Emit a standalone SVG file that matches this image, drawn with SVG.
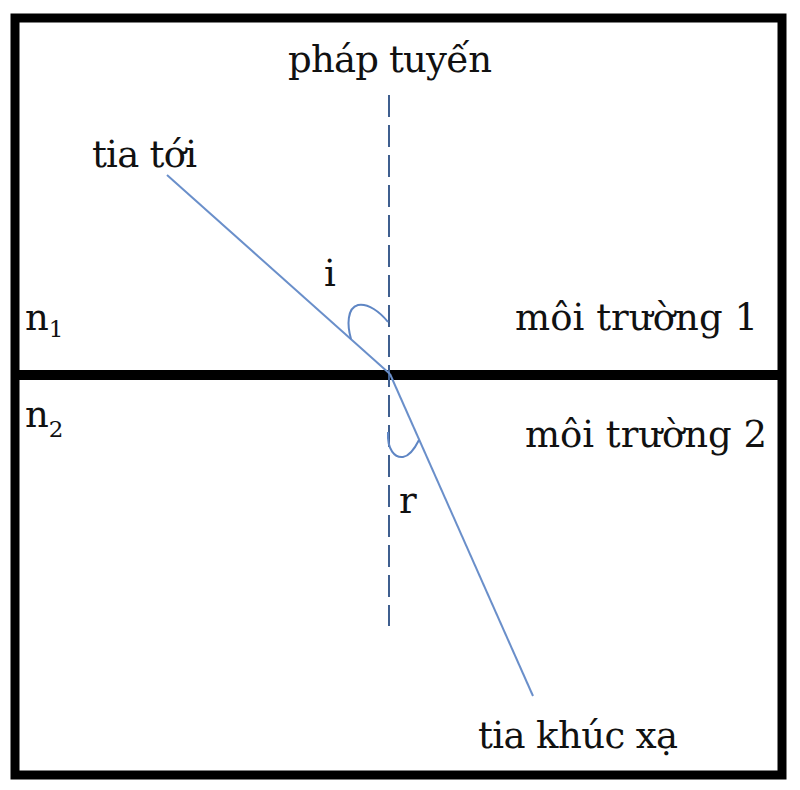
<svg xmlns="http://www.w3.org/2000/svg" width="800" height="790" viewBox="0 0 800 790">
<style>
.lbl{font-family:"DejaVu Serif","Liberation Serif",serif;font-size:37px;fill:#111;}
.sub{font-family:"DejaVu Serif","Liberation Serif",serif;font-size:23px;fill:#111;}
.ray{stroke:#6a8fca;stroke-width:2;fill:none;}
.arc{stroke:#5f86c4;stroke-width:2;fill:none;}
.normal{stroke:#3f5f8f;stroke-width:2;stroke-dasharray:22 8;fill:none;}
.frame{stroke:#000;stroke-width:9;fill:none;}
</style>
<rect width="800" height="790" fill="#fff"/>
<g id="frame">
<rect class="frame" x="15" y="18" width="767" height="757"/>
<line x1="15" y1="375" x2="782" y2="375" stroke="#000" stroke-width="10"/>
</g>
<g id="connectors">
<line class="normal" x1="389" y1="95" x2="389" y2="626"/>
<line class="ray" x1="167" y1="175" x2="390" y2="374"/>
<line class="ray" x1="390" y1="374" x2="533" y2="696"/>
<path class="arc" d="M351,339 C347,325 347,308 358,305 C368,303 380,312 388,322"/>
<path class="arc" d="M388,432 C387,450 395,458 403,457 C410,456 415,448 419,440"/>
</g>
<g id="label-phap-tuyen"><text class="lbl" x="288" y="72" textLength="204">pháp tuyến</text></g>
<g id="label-tia-toi"><text class="lbl" x="92" y="167" textLength="105">tia tới</text></g>
<g id="label-i"><text class="lbl" x="324" y="286">i</text></g>
<g id="label-n1"><text class="lbl" x="25" y="330">n<tspan class="sub" dy="7">1</tspan></text></g>
<g id="label-n2"><text class="lbl" x="25" y="427">n<tspan class="sub" dy="10">2</tspan></text></g>
<g id="label-mt1"><text class="lbl" x="515" y="330" textLength="243">môi trường 1</text></g>
<g id="label-mt2"><text class="lbl" x="525" y="447" textLength="242">môi trường 2</text></g>
<g id="label-r"><text class="lbl" x="399" y="513">r</text></g>
<g id="label-tia-khuc-xa"><text class="lbl" x="478" y="748" textLength="200">tia khúc xạ</text></g>
</svg>
